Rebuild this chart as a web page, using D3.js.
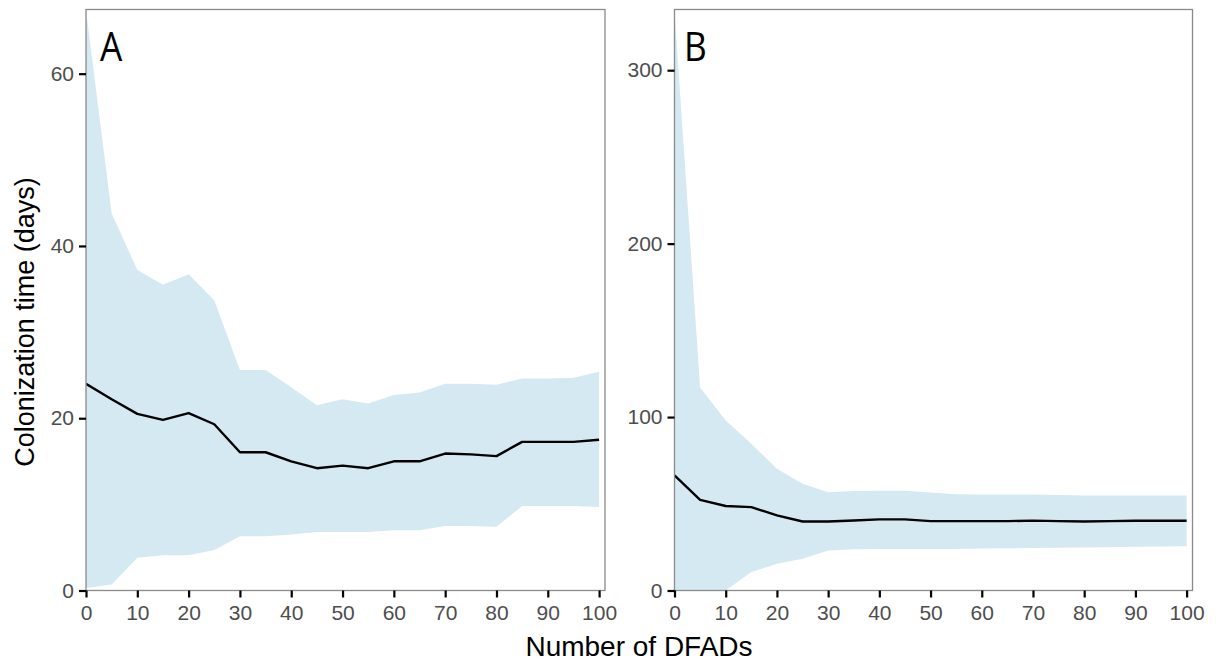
<!DOCTYPE html>
<html>
<head>
<meta charset="utf-8">
<script src="https://cdn.jsdelivr.net/npm/d3@7"></script>
<style>
  html, body { margin: 0; padding: 0; background: #ffffff; }
  svg { display: block; }
</style>
</head>
<body>
<svg id="chart" width="1216" height="661"></svg>
<script>
// ---- data ----
const dfads = [0, 5, 10, 15, 20, 25, 30, 35, 40, 45, 50, 55, 60, 65, 70, 75, 80, 85, 90, 95, 100];

const meanA  = [24.0, 22.2, 20.5, 19.8, 20.6, 19.3, 16.05, 16.05, 15.0, 14.2, 14.5, 14.2, 15.0, 15.0, 15.9, 15.8, 15.6, 17.25, 17.25, 17.25, 17.5];
const upperA = [67.4, 43.8, 37.2, 35.5, 36.7, 33.7, 25.6, 25.6, 23.6, 21.5, 22.2, 21.7, 22.7, 23.0, 24.0, 24.0, 23.9, 24.6, 24.6, 24.7, 25.4];
const lowerA = [0.3, 0.7, 3.8, 4.1, 4.1, 4.7, 6.3, 6.3, 6.5, 6.8, 6.8, 6.8, 7.0, 7.0, 7.5, 7.5, 7.4, 9.8, 9.8, 9.8, 9.7];

const meanB  = [66.4, 52.3, 48.7, 48.1, 43.3, 39.8, 39.8, 40.4, 41.0, 41.0, 40.0, 40.0, 40.0, 40.0, 40.3, 40.0, 39.8, 40.0, 40.2, 40.2, 40.2];
const upperB = [334, 117, 98, 84.6, 70.2, 61.5, 56.7, 57.3, 57.5, 57.5, 56.5, 55.5, 55.3, 55.3, 55.3, 55.0, 54.8, 54.8, 54.8, 54.8, 54.8];
const lowerB = [0, 0, 0, 10.6, 15.4, 18.3, 23.1, 23.8, 24.0, 24.0, 24.0, 24.0, 24.2, 24.3, 24.5, 24.6, 24.8, 25.0, 25.2, 25.3, 25.5];

const xTicks  = [0, 10, 20, 30, 40, 50, 60, 70, 80, 90, 100];
const yTicksA = [0, 20, 40, 60];
const yTicksB = [0, 100, 200, 300];
const panelLabels = ["A", "B"];
const xTitle = "Number of DFADs";
const yTitle = "Colonization time (days)";

// ---- layout ----
const svg = d3.select("#chart");
const FONT = "'Liberation Sans', Arial, Helvetica, sans-serif";
const plotTop = 9.5, plotBottom = 590.5;

const panels = [
  { left: 86,  right: 605,    yMax: 67.45, yTicks: yTicksA, mean: meanA, upper: upperA, lower: lowerA, label: panelLabels[0], lx: 100 },
  { left: 674.5, right: 1192.5, yMax: 335,  yTicks: yTicksB, mean: meanB, upper: upperB, lower: lowerB, label: panelLabels[1], lx: 684 }
];

panels.forEach((p, i) => {
  const x = d3.scaleLinear().domain([0, 101.15]).range([p.left, p.right]);
  const y = d3.scaleLinear().domain([0, p.yMax]).range([plotBottom, plotTop]);
  const rows = dfads.map((d, k) => ({ x: d, m: p.mean[k], u: p.upper[k], l: p.lower[k] }));

  const clipId = "clip" + i;
  svg.append("clipPath").attr("id", clipId)
    .append("rect").attr("x", p.left).attr("y", plotTop)
    .attr("width", p.right - p.left).attr("height", plotBottom - plotTop);

  const g = svg.append("g").attr("clip-path", `url(#${clipId})`);

  g.append("path")
    .datum(rows)
    .attr("fill", "#d5e9f2")
    .attr("d", d3.area().x(d => x(d.x)).y0(d => y(d.l)).y1(d => y(d.u)));

  g.append("path")
    .datum(rows)
    .attr("fill", "none")
    .attr("stroke", "#000")
    .attr("stroke-width", 2.4)
    .attr("stroke-linejoin", "round")
    .attr("d", d3.line().x(d => x(d.x)).y(d => y(d.m)));

  // panel border
  svg.append("rect")
    .attr("x", p.left).attr("y", plotTop)
    .attr("width", p.right - p.left).attr("height", plotBottom - plotTop)
    .attr("fill", "none").attr("stroke", "#8a8a8a").attr("stroke-width", 1.3);

  // axes
  const xAxis = svg.append("g")
    .attr("transform", `translate(0,${plotBottom})`)
    .call(d3.axisBottom(x).tickValues(xTicks).tickSize(7).tickPadding(8).tickFormat(d3.format("d")));
  const yAxis = svg.append("g")
    .attr("transform", `translate(${p.left},0)`)
    .call(d3.axisLeft(y).tickValues(p.yTicks).tickSize(7).tickPadding(5).tickFormat(d3.format("d")));

  [xAxis, yAxis].forEach(a => {
    a.select(".domain").remove();
    a.selectAll(".tick line").attr("stroke", "#000").attr("stroke-width", 2.2);
    a.selectAll(".tick text").attr("fill", "#4d4d4d").style("font-family", FONT).style("font-size", "21px");
  });

  // panel letter
  svg.append("text")
    .attr("transform", `translate(${p.lx},61) scale(0.86,1)`)
    .style("font-family", "'Open Sans', 'Noto Sans', sans-serif")
    .style("font-size", "41px")
    .attr("fill", "#000")
    .text(p.label);
});

// axis titles
svg.append("text")
  .attr("transform", "translate(34,322) rotate(-90)")
  .attr("text-anchor", "middle")
  .style("font-family", FONT)
  .style("font-size", "27px")
  .attr("fill", "#000")
  .text(yTitle);

svg.append("text")
  .attr("x", 639).attr("y", 656)
  .attr("text-anchor", "middle")
  .style("font-family", FONT)
  .style("font-size", "28px")
  .attr("fill", "#000")
  .text(xTitle);
</script>
</body>
</html>
